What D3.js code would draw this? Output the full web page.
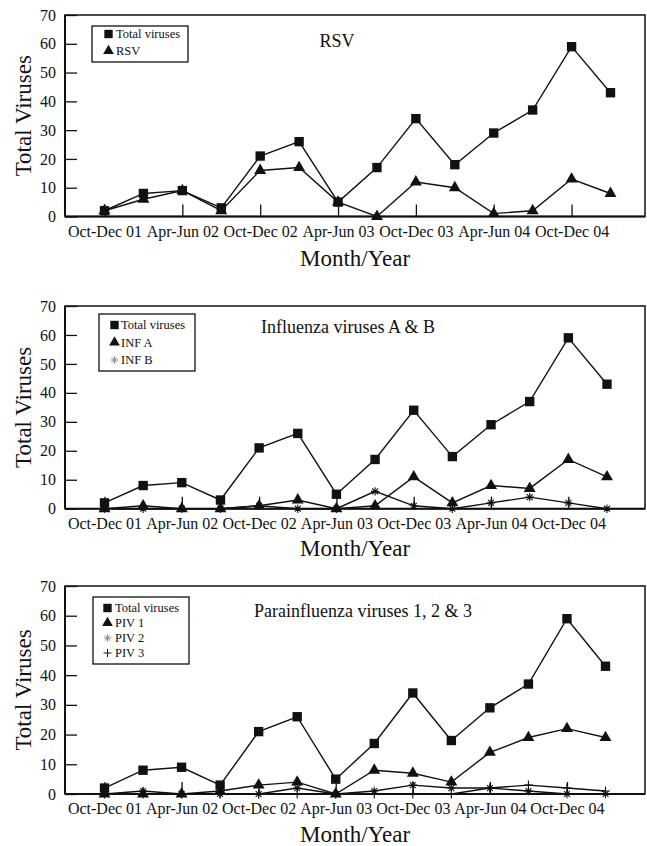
<!DOCTYPE html>
<html><head><meta charset="utf-8">
<script src="https://cdn.jsdelivr.net/npm/d3@7"></script>
<style>
body{margin:0;background:#fff}
svg{display:block}
text{font-family:"Liberation Serif","Times New Roman",serif;fill:#111}
</style></head><body>
<svg id="c" width="647" height="846"></svg>
<script>
// ---------- data ----------
const categories = ["Oct-Dec 01","Jan-Mar 02","Apr-Jun 02","Jul-Sep 02","Oct-Dec 02","Jan-Mar 03","Apr-Jun 03","Jul-Sep 03","Oct-Dec 03","Jan-Mar 04","Apr-Jun 04","Jul-Sep 04","Oct-Dec 04","Jan-Mar 05"];
const tickLabels = ["Oct-Dec 01","Apr-Jun 02","Oct-Dec 02","Apr-Jun 03","Oct-Dec 03","Apr-Jun 04","Oct-Dec 04"];
const yTicks = [0,10,20,30,40,50,60,70];
const totalViruses = [2,8,9,3,21,26,5,17,34,18,29,37,59,43];
const rsv  = [2,6,9,2,16,17,5,0,12,10,1,2,13,8];
const infA = [0,1,0,0,1,3,0,1,11,2,8,7,17,11];
const infB = [0,0,0,0,1,0,0,6,1,0,2,4,2,0];
const piv1 = [0,0,0,1,3,4,0,8,7,4,14,19,22,19];
const piv2 = [0,1,0,0,0,2,0,1,3,2,2,1,0,0];
const piv3 = [0,0,0,0,0,0,0,0,0,0,2,3,2,1];
const titles = ["RSV","Influenza viruses A & B","Parainfluenza viruses 1, 2 & 3"];
const seriesNames = [["Total viruses","RSV"],["Total viruses","INF A","INF B"],["Total viruses","PIV 1","PIV 2","PIV 3"]];
const seriesValues = [[totalViruses,rsv],[totalViruses,infA,infB],[totalViruses,piv1,piv2,piv3]];
const seriesSymbols = [["square","triangle"],["square","triangle","asterisk"],["square","triangle","asterisk","plus"]];

// ---------- layout ----------
const layout = [
  {top:15, bottom:216.5, x0:104.5, x1:610.5, titleX:337, titleY:46.5, monthY:266, lg:{x:92,y:26,w:96,h:36,row0:34,step:17,mx:16.5,tx:24}},
  {top:306, bottom:508.7, x0:104.5, x1:607, titleX:348, titleY:333, monthY:556, lg:{x:99,y:314,w:96,h:57,row0:325,step:17.5,mx:15.5,tx:22}},
  {top:586, bottom:794, x0:104.5, x1:605.5, titleX:363, titleY:617, monthY:842, lg:{x:93,y:597,w:96,h:67,row0:608,step:15,mx:14.5,tx:22}}
];
const left = 65, right = 645;

const asterisk = {draw(ctx, size){
  const r = Math.sqrt(size)/2;
  for (let k=0;k<4;k++){ const a = k*Math.PI/4; ctx.moveTo(-r*Math.cos(a),-r*Math.sin(a)); ctx.lineTo(r*Math.cos(a),r*Math.sin(a)); }
}};
const plus = {draw(ctx,size){ const r=Math.sqrt(size)/2; ctx.moveTo(-r,0);ctx.lineTo(r,0);ctx.moveTo(0,-r);ctx.lineTo(0,r);}};
const symDef = {
  square:{type:d3.symbolSquare,size:88,fill:"#111",stroke:"none"},
  triangle:{type:d3.symbolTriangle,size:62,fill:"#111",stroke:"none"},
  asterisk:{type:asterisk,size:70,fill:"none",stroke:"#111"},
  plus:{type:plus,size:80,fill:"none",stroke:"#111"}
};
const symPath = s => d3.symbol().type(symDef[s].type).size(symDef[s].size)();

const svg = d3.select("#c");

layout.forEach((L, p) => {
  const g = svg.append("g");
  const x = d3.scalePoint().domain(categories).range([L.x0, L.x1]);
  const y = d3.scaleLinear().domain([0,70]).range([L.bottom, L.top]);

  // frame
  g.append("rect").attr("x",left).attr("y",L.top).attr("width",right-left).attr("height",L.bottom-L.top)
    .attr("fill","none").attr("stroke","#111").attr("stroke-width",1.5);
  g.append("line").attr("x1",left).attr("x2",right).attr("y1",L.bottom).attr("y2",L.bottom).attr("stroke","#111").attr("stroke-width",2);
  g.append("line").attr("x1",left).attr("x2",left).attr("y1",L.top).attr("y2",L.bottom).attr("stroke","#111").attr("stroke-width",2);

  // axes
  const xa = g.append("g").attr("transform",`translate(0,${L.bottom})`)
    .call(d3.axisBottom(x).tickValues(tickLabels).tickSizeInner(-12).tickSizeOuter(0).tickPadding(9));
  xa.select(".domain").remove();
  xa.selectAll("line").attr("stroke","#111").attr("stroke-width",1.3);
  xa.selectAll("text").attr("font-size",16).attr("font-family",'"Liberation Serif",serif').attr("fill","#111");

  const ya = g.append("g").attr("transform",`translate(${left},0)`)
    .call(d3.axisLeft(y).tickValues(yTicks).tickSizeInner(-12).tickSizeOuter(0).tickPadding(9));
  ya.select(".domain").remove();
  ya.selectAll("line").attr("stroke","#111").attr("stroke-width",1.3);
  ya.selectAll("text").attr("font-size",16).attr("font-family",'"Liberation Serif",serif').attr("fill","#111");

  // axis titles
  g.append("text").attr("transform",`translate(31,${(L.top+L.bottom)/2}) rotate(-90)`)
    .attr("text-anchor","middle").attr("font-size",23).text("Total Viruses");
  g.append("text").attr("x",355).attr("y",L.monthY).attr("text-anchor","middle").attr("font-size",23).text("Month/Year");

  // title
  g.append("text").attr("x",L.titleX).attr("y",L.titleY).attr("text-anchor","middle").attr("font-size",18).text(titles[p]);

  // series
  const line = d3.line().x((d,i)=>x(categories[i])).y(d=>y(d));
  seriesValues[p].forEach((vals, si) => {
    g.append("path").datum(vals).attr("d",line).attr("fill","none").attr("stroke","#111").attr("stroke-width",1.4);
  });
  seriesValues[p].forEach((vals, si) => {
    const s = seriesSymbols[p][si];
    g.selectAll(null).data(vals).join("path")
      .attr("transform",(d,i)=>`translate(${x(categories[i])},${y(d)})`)
      .attr("d",symPath(s)).attr("fill",symDef[s].fill).attr("stroke",symDef[s].stroke).attr("stroke-width",1.1);
  });

  // legend
  const lg = L.lg;
  g.append("rect").attr("x",lg.x).attr("y",lg.y).attr("width",lg.w).attr("height",lg.h)
    .attr("fill","#fff").attr("stroke","#111").attr("stroke-width",1.3);
  seriesNames[p].forEach((nm, si) => {
    const s = seriesSymbols[p][si];
    const cy = lg.row0 + si*lg.step;
    g.append("path").attr("transform",`translate(${lg.x+lg.mx},${cy})`)
      .attr("d",d3.symbol().type(symDef[s].type).size(symDef[s].size*0.8)())
      .attr("fill",symDef[s].fill).attr("stroke",s==="asterisk"?"#888":symDef[s].stroke).attr("stroke-width",1);
    g.append("text").attr("x",lg.x+lg.tx).attr("y",cy+4.3).attr("font-size",12.5).text(nm);
  });
});
</script>
</body></html>
